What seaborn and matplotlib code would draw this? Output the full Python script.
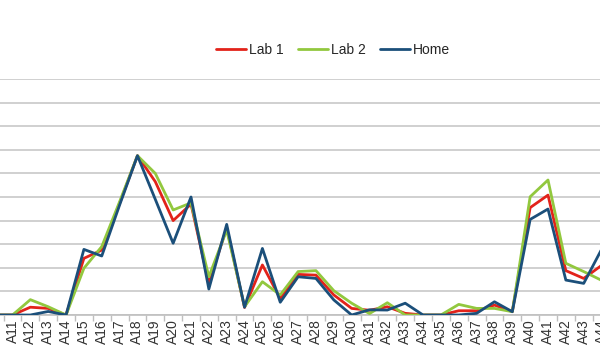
import numpy as np
import pandas as pd
import matplotlib
matplotlib.use("Agg")
import matplotlib.pyplot as plt
import seaborn as sns

categories = ["A%d" % i for i in range(10, 45)]
lab1 = [0, 0, 0.33, 0.28, 0, 2.40, 2.75, 4.73, 6.75, 5.65, 4.0, 4.7, 1.34, 3.7, 0.32,
        2.12, 0.70, 1.72, 1.69, 0.85, 0.28, 0.20, 0.35, 0.07, 0, 0, 0.18, 0.18, 0.42,
        0.14, 4.55, 5.08, 1.88, 1.55, 2.10]
lab2 = [0, 0, 0.65, 0.35, 0, 1.98, 2.90, 4.80, 6.75, 6.00, 4.45, 4.75, 1.62, 3.6, 0.35,
        1.41, 0.85, 1.84, 1.88, 1.03, 0.50, 0.06, 0.52, 0, 0, 0, 0.45, 0.28, 0.28,
        0.14, 5.01, 5.72, 2.19, 1.84, 1.47]
home = [0, 0, 0, 0.15, 0, 2.78, 2.50, 4.66, 6.75, 4.90, 3.04, 5.0, 1.10, 3.84, 0.33,
        2.82, 0.54, 1.62, 1.55, 0.64, 0, 0.22, 0.21, 0.50, 0, 0, 0, 0.07, 0.56,
        0.14, 4.05, 4.49, 1.48, 1.34, 2.78]
series_names = ["Lab 1", "Lab 2", "Home"]
colors = ["#E2231A", "#92C83E", "#1B4F7A"]

rows = []
for name, vals in zip(series_names, [lab1, lab2, home]):
    for i, (c, v) in enumerate(zip(categories, vals)):
        rows.append({"pos": i, "cat": c, "value": v, "series": name})
df = pd.DataFrame(rows)

sns.set_style("white")
plt.rcParams["font.family"] = ["Liberation Sans", "DejaVu Sans"]

W, H = 600, 363
fig = plt.figure(figsize=(W / 100, H / 100), dpi=100)
n = len(categories)
step = 17.85
left_px = 12.5 - 1.5 * step
width_px = (n) * step
ax = fig.add_axes([left_px / W, (H - 315) / H, width_px / W, 236 / H])

sns.lineplot(data=df, x="pos", y="value", hue="series", hue_order=series_names,
             palette=colors, linewidth=2.0, ax=ax, legend=True, zorder=3)

ax.set_xlim(-0.5, n - 0.5)
ax.set_ylim(0, 10)
ax.set_yticks(np.arange(0, 11, 1))
ax.yaxis.grid(True, color="#C8C8C8", linewidth=1.2)
ax.set_axisbelow(True)
ax.tick_params(axis="y", left=False, labelleft=False)
ax.set_xticks(np.arange(n), labels=categories, rotation=90)
ax.set_xticks(np.arange(n) + 0.5, minor=True)
ax.tick_params(axis="x", which="major", length=0, pad=3, labelsize=10, labelcolor="#333333")
ax.tick_params(axis="x", which="minor", length=4, width=1, color="#BFBFBF", direction="out", bottom=True)
# the first category sits outside the visible crop of the reference
ax.get_xticklabels()[0].set_visible(False)
for s in ["top", "left", "right"]:
    ax.spines[s].set_visible(False)
ax.spines["bottom"].set_color("#BFBFBF")
ax.spines["bottom"].set_linewidth(1.2)
ax.set_xlabel("")
ax.set_ylabel("")

handles, labels = ax.get_legend_handles_labels()
ax.get_legend().remove()
fig.legend(handles, labels, loc="center", bbox_to_anchor=(333 / W, 1 - 50 / H), ncol=3,
           frameon=False, fontsize=10, handlelength=2.15, handletextpad=0.22,
           columnspacing=1.05, labelcolor="#262626")

fig.savefig("out.png", dpi=100)
